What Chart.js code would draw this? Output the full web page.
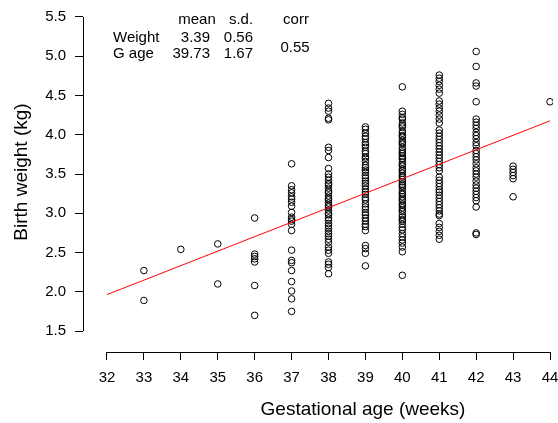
<!DOCTYPE html>
<html>
<head>
<meta charset="utf-8">
<script src="https://cdn.jsdelivr.net/npm/chart.js@4/dist/chart.umd.min.js"></script>
<style>
  html, body { margin: 0; padding: 0; background: #fff; }
  #wrap { width: 558px; height: 423px; }
</style>
</head>
<body>
<div id="wrap"><canvas id="chartPeso"></canvas></div>
<script>
// Birth weight (kg) of each baby, grouped by gestational age in weeks
const w33 = [2.27, 1.89];
const w34 = [2.54];
const w35 = [2.61, 2.10];
const w36 = [2.94, 2.48, 2.45, 2.42, 2.38, 2.08, 1.70];
const w37 = [3.63, 3.35, 3.30, 3.26, 3.21, 3.18, 3.14, 3.09, 3.01, 2.95, 2.92,
  2.90, 2.86, 2.78, 2.53, 2.40, 2.37, 2.27, 2.13, 2.01, 1.91, 1.75];
const w38 = [4.40, 4.34, 4.30, 4.21, 4.19, 3.84, 3.80, 3.71, 3.57, 3.50, 3.46,
  3.42, 3.38, 3.36, 3.32, 3.28, 3.26, 3.22, 3.19, 3.17, 3.13, 3.10, 3.08, 3.04,
  3.00, 2.98, 2.94, 2.91, 2.87, 2.84, 2.81, 2.77, 2.74, 2.71, 2.67, 2.63, 2.57,
  2.53, 2.49, 2.38, 2.35, 2.31, 2.23];
const w39 = [4.10, 4.07, 4.02, 3.98, 3.95, 3.90, 3.87, 3.84, 3.79, 3.76, 3.72,
  3.70, 3.66, 3.61, 3.58, 3.55, 3.52, 3.48, 3.45, 3.41, 3.38, 3.35, 3.31, 3.27,
  3.24, 3.20, 3.17, 3.12, 3.08, 3.05, 3.01, 2.98, 2.94, 2.90, 2.86, 2.83, 2.78,
  2.59, 2.55, 2.49, 2.33];
const w40 = [4.61, 4.30, 4.26, 4.22, 4.20, 4.15, 4.12, 4.10, 4.05, 4.02, 3.99,
  3.97, 3.93, 3.90, 3.88, 3.84, 3.81, 3.78, 3.76, 3.73, 3.70, 3.69, 3.65, 3.62,
  3.60, 3.56, 3.54, 3.51, 3.48, 3.46, 3.43, 3.40, 3.37, 3.35, 3.33, 3.29, 3.26,
  3.24, 3.21, 3.18, 3.16, 3.12, 3.10, 3.07, 3.04, 3.02, 2.98, 2.95, 2.92, 2.90,
  2.86, 2.82, 2.79, 2.74, 2.70, 2.66, 2.62, 2.57, 2.51, 2.21];
const w41 = [4.76, 4.72, 4.68, 4.63, 4.58, 4.53, 4.43, 4.39, 4.34, 4.30, 4.25,
  4.20, 4.15, 4.06, 4.02, 3.98, 3.94, 3.90, 3.86, 3.82, 3.78, 3.74, 3.70, 3.66,
  3.62, 3.58, 3.54, 3.46, 3.42, 3.38, 3.34, 3.30, 3.27, 3.23, 3.19, 3.15, 3.11,
  3.07, 3.03, 2.99, 2.97, 2.87, 2.82, 2.77, 2.72, 2.67];
const w42 = [5.06, 4.87, 4.66, 4.62, 4.42, 4.20, 4.16, 4.12, 4.08, 4.03, 3.99,
  3.95, 3.90, 3.86, 3.80, 3.76, 3.72, 3.68, 3.63, 3.58, 3.54, 3.50, 3.46, 3.41,
  3.36, 3.32, 3.28, 3.24, 3.20, 3.16, 3.08, 2.75, 2.73];
const w43 = [3.60, 3.56, 3.52, 3.48, 3.44, 3.21];
const w44 = [4.42];

const weeks = [33, 34, 35, 36, 37, 38, 39, 40, 41, 42, 43, 44];
const weightsByWeek = [w33, w34, w35, w36, w37, w38, w39, w40, w41, w42, w43, w44];

// Summary table shown in the top-left corner
const statRows = ['Weight', 'G age'];
const statMean = [3.39, 39.73];
const statSd = [0.56, 1.67];
const statCorr = 0.55;

const xTicks = [32, 33, 34, 35, 36, 37, 38, 39, 40, 41, 42, 43, 44];
const yTicks = [1.5, 2.0, 2.5, 3.0, 3.5, 4.0, 4.5, 5.0, 5.5];

const FONT = 'Liberation Sans, Arial, Helvetica, sans-serif';

// One {x, y} per baby
const points = [];
weeks.forEach((wk, i) => {
  weightsByWeek[i].forEach((kg) => points.push({ x: wk, y: kg }));
});

// Least-squares line from the summary statistics: slope = r * sdY / sdX
const slope = statCorr * statSd[0] / statSd[1];
const fitLine = [xTicks[0], xTicks[xTicks.length - 1]].map((x) => ({
  x,
  y: statMean[0] + slope * (x - statMean[1]),
}));

// R-style axes: the axis line only runs from the first to the last tick,
// plus the axis titles and the little summary table.
const extrasPlugin = {
  id: 'extras',
  afterDraw(chart) {
    const { ctx, scales: { x, y } } = chart;
    ctx.save();
    ctx.strokeStyle = '#000';
    ctx.lineWidth = 1;

    const yLeft = Math.round(chart.chartArea.left) + 0.5;
    ctx.beginPath();
    ctx.moveTo(yLeft, y.getPixelForValue(yTicks[0]));
    ctx.lineTo(yLeft, y.getPixelForValue(yTicks[yTicks.length - 1]));
    ctx.stroke();

    const xBottom = Math.round(chart.chartArea.bottom) + 0.5;
    ctx.beginPath();
    ctx.moveTo(x.getPixelForValue(xTicks[0]), xBottom);
    ctx.lineTo(x.getPixelForValue(xTicks[xTicks.length - 1]), xBottom);
    ctx.stroke();

    ctx.fillStyle = '#000';
    ctx.textBaseline = 'middle';

    // Axis titles
    ctx.font = '19px ' + FONT;
    ctx.textAlign = 'center';
    ctx.fillText('Gestational age (weeks)', 363, 410);
    ctx.save();
    ctx.translate(22, 172);
    ctx.rotate(-Math.PI / 2);
    ctx.fillText('Birth weight (kg)', 0, 0);
    ctx.restore();

    // Summary table
    ctx.font = '15px ' + FONT;
    ctx.textAlign = 'center';
    ctx.fillText('mean', 197, 20);
    ctx.fillText('s.d.', 241, 20);
    ctx.fillText('corr', 296, 20);
    const rowY = [38, 54];
    statRows.forEach((label, i) => {
      ctx.textAlign = 'left';
      ctx.fillText(label, 113, rowY[i]);
      ctx.textAlign = 'right';
      ctx.fillText(statMean[i].toFixed(2), 210, rowY[i]);
      ctx.fillText(statSd[i].toFixed(2), 253, rowY[i]);
    });
    ctx.textAlign = 'center';
    ctx.fillText(statCorr.toFixed(2), 295, 48);
    ctx.restore();
  },
};

new Chart(document.getElementById('chartPeso'), {
  type: 'scatter',
  data: {
    datasets: [
      {
        data: points,
        pointStyle: 'circle',
        pointRadius: 3.3,
        pointBorderWidth: 1,
        pointBorderColor: '#000',
        pointBackgroundColor: 'rgba(0,0,0,0)',
        order: 2,
      },
      {
        type: 'line',
        data: fitLine,
        borderColor: '#ff0000',
        borderWidth: 1,
        pointRadius: 0,
        fill: false,
        order: 1,
      },
    ],
  },
  options: {
    responsive: true,
    maintainAspectRatio: false,
    animation: false,
    events: [],
    layout: { padding: { left: 0, right: 0, top: 4, bottom: 0 } },
    plugins: { legend: { display: false }, tooltip: { enabled: false } },
    scales: {
      x: {
        type: 'linear',
        position: 'bottom',
        min: 31.35,
        max: 44.081,
        afterBuildTicks(scale) {
          scale.ticks = xTicks.map((v) => ({ value: v }));
        },
        afterFit(scale) {
          scale.height = 71;
          scale.paddingLeft = 0;
          scale.paddingRight = 0;
        },
        border: { display: false },
        grid: { drawOnChartArea: false, drawTicks: true, tickLength: 8, color: '#000', lineWidth: 1 },
        ticks: {
          color: '#000',
          font: { family: FONT, size: 15 },
          padding: 9,
          maxRotation: 0,
          autoSkip: false,
          callback: (v) => String(v),
        },
      },
      y: {
        type: 'linear',
        position: 'left',
        min: 1.2333,
        max: 5.6524,
        afterBuildTicks(scale) {
          scale.ticks = yTicks.map((v) => ({ value: v }));
        },
        afterFit(scale) {
          scale.width = 83;
          scale.paddingTop = 0;
          scale.paddingBottom = 0;
        },
        border: { display: false },
        grid: { drawOnChartArea: false, drawTicks: true, tickLength: 8, color: '#000', lineWidth: 1 },
        ticks: {
          color: '#000',
          font: { family: FONT, size: 15 },
          padding: 9,
          autoSkip: false,
          callback: (v) => v.toFixed(1),
        },
      },
    },
  },
  plugins: [extrasPlugin],
});
</script>
</body>
</html>
